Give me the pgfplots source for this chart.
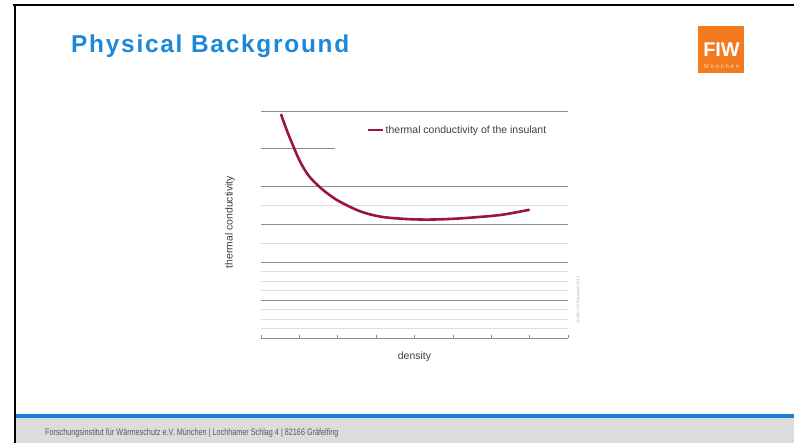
\documentclass[border=0pt]{standalone}
\usepackage{fontspec}
\setmainfont{Liberation Sans}
\usepackage{pgfplots}
\pgfplotsset{compat=1.18}
\definecolor{titleblue}{RGB}{30,136,216}
\definecolor{barblue}{RGB}{26,128,214}
\definecolor{footgray}{RGB}{220,220,220}
\definecolor{fiworange}{RGB}{244,122,32}
\definecolor{curvered}{RGB}{155,22,58}
\definecolor{majgrid}{RGB}{140,140,140}
\definecolor{mingrid}{RGB}{222,222,222}
\begin{document}
\begin{tikzpicture}[x=1bp,y=1bp]
\useasboundingbox (0,0) rectangle (794,443);
\fill[white] (0,0) rectangle (794,443);
% footer
\fill[footgray] (16,0) rectangle (794,25);
\fill[barblue] (16,25) rectangle (794,28.5);
\node[anchor=base west, inner sep=0, text=black!65] at (45,7.5)
  {\fontsize{9.5}{11}\selectfont\scalebox{0.765}[1]{Forschungsinstitut für Wärmeschutz e.V. München | Lochhamer Schlag 4 | 82166 Gräfelfing}};
% borders
\draw[black, line width=2bp] (13,438) -- (794,438);
\draw[black, line width=2.5bp] (14.8,0) -- (14.8,439);
% title
\node[anchor=base west, inner sep=0, text=titleblue] at (71,390)
  {\fontsize{24.5}{28}\selectfont\addfontfeature{LetterSpace=7.2}\bfseries Physical Background};
% logo
\fill[fiworange] (698,370) rectangle (744,417);
\node[text=white, inner sep=0] at (721.5,393.5) {\fontsize{20}{22}\selectfont\bfseries FIW};
\node[text=orange!25, inner sep=0] at (721.5,376.5) {\fontsize{6}{7}\selectfont\addfontfeature{LetterSpace=30}München};
% watermark
\node[rotate=90, text=black!30, inner sep=0] at (578,143) {\fontsize{4}{5}\selectfont Grafik: IGI Rockwool 0112};
\begin{axis}[
  at={(261bp,105bp)}, anchor=south west,
  width=307bp, height=227bp, scale only axis,
  xmin=0, xmax=8, ymin=0, ymax=6,
  axis x line*=bottom, axis y line*=left,
  y axis line style={draw=none},
  x axis line style={draw=black!45, line width=0.8bp, -},
  xtick={0,1,...,8}, xticklabels={},
  xtick align=inside, xtick pos=bottom,
  major tick length=3bp,
  x tick style={draw=black!45, line width=0.6bp},
  ytick={0,1,2,3,4,6}, yticklabels={},
  minor ytick={0.25,0.5,0.75,1.25,1.5,1.75,2.5,3.5},
  y tick style={draw=none},
  ymajorgrids, yminorgrids,
  major grid style={draw=majgrid, line width=0.7bp},
  minor grid style={draw=mingrid, line width=0.6bp},
  xlabel={density}, ylabel={thermal conductivity},
  xlabel style={at={(axis description cs:0.5,-0.084)}, anchor=center, text=black!75, font=\fontsize{10.5}{12}\selectfont},
  ylabel style={at={(axis description cs:-0.101,0.51)}, anchor=center, rotate=0, text=black!75, font=\fontsize{10.5}{12}\selectfont},
  legend style={at={(0.345,0.916)}, anchor=west, draw=none, fill=none,
    inner sep=0pt, font=\fontsize{10.5}{12}\selectfont, text=black!75,
    nodes={inner sep=1bp}},
  legend image code/.code={\draw[#1, line width=2.6bp] (0bp,0bp) -- (15bp,0bp);},
  clip=false,
]
\draw[majgrid, line width=0.7bp] (axis cs:0,5) -- (axis cs:1.93,5);
\addplot[curvered, line width=2.6bp, smooth, tension=0.55] coordinates {
  (0.52,5.92) (0.65,5.55) (0.80,5.17) (1.02,4.66) (1.25,4.28) (1.54,3.98)
  (1.80,3.77) (2.06,3.60) (2.58,3.35) (3.10,3.21) (3.70,3.15) (4.32,3.13)
  (5.00,3.15) (5.70,3.20) (6.30,3.26) (7.00,3.39)
};
\addlegendentry{thermal conductivity of the insulant}
\end{axis}
\end{tikzpicture}
\end{document}
